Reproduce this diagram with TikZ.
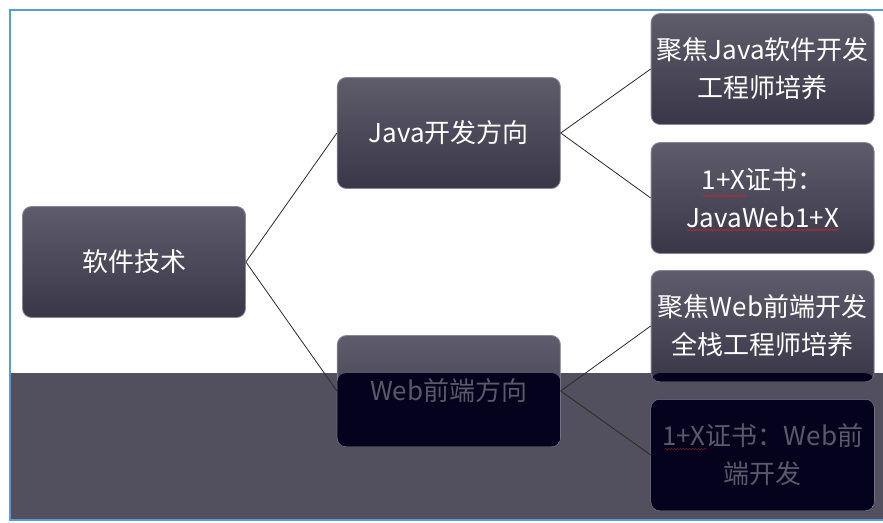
\documentclass[tikz,border=0pt]{standalone}
\usepackage{fontspec}
\setmainfont{Noto Sans CJK SC}
\usetikzlibrary{positioning,calc,decorations.pathmorphing}
\definecolor{boxtop}{HTML}{5F5D6C}
\definecolor{boxbot}{HTML}{393747}
\definecolor{boxedge}{HTML}{8A8898}
\definecolor{ovfill}{HTML}{52505F}
\definecolor{dimfill}{HTML}{04021C}
\definecolor{dimtext}{HTML}{5A5869}
\definecolor{frameblue}{HTML}{5B9BD5}
\definecolor{linkgray}{HTML}{2A2A2A}
\definecolor{squig}{HTML}{C0282D}
\tikzset{box/.style={draw=boxedge, line width=0.8pt, rounded corners=9pt, top color=boxtop, bottom color=boxbot, text=white, minimum width=223pt, minimum height=111pt, inner sep=2pt, align=center, font=\fontsize{26}{38}\selectfont}}
\tikzstyle{dim}=[text=dimtext, postaction={path picture={\fill[dimfill] (path picture bounding box.south west) rectangle (path picture bounding box.east |- ovtop);}}]
\tikzstyle{link}=[draw=linkgray, line width=0.8pt]
\tikzstyle{wavy}=[draw=squig, line width=0.6pt, decorate, decoration={snake, amplitude=0.8pt, segment length=3pt}]

\begin{document}
\begin{tikzpicture}[x=1pt, y=-1pt, node distance=90pt]
\useasboundingbox (0,0) rectangle (883,522);
\draw[frameblue, line width=1.5pt] (883,10) -- (10,10) -- (10,520) -- (883,520);
\coordinate (ovtop) at (11,373);
\fill[ovfill] (ovtop) rectangle (883,519);

\node[box] (root) at (134,262) {软件技术};
\node[box, right=91pt of root, yshift=129pt] (java) {Java开发方向};
\node[box, dim, right=91pt of root, yshift=-129pt] (web) {Web前端方向};
\node[box, right=of java, yshift=64pt] (j1) {聚焦Java软件开发\\工程师培养};
\node[box, right=of java, yshift=-65pt] (j2) {1+X证书：\\JavaWeb1+X};
\node[box, dim, text=white, right=of web, yshift=65pt] (w1) {聚焦Web前端开发\\全栈工程师培养};
\node[box, dim, right=of web, yshift=-64pt] (w2) {1+X证书：Web前\\端开发};

\path[link] (root.east) edge (java.west)
	(root.east) edge (web.west)
	(java.east) edge (j1.west)
	(java.east) edge (j2.west)
	(web.east) edge (w1.west)
	(web.east) edge (w2.west)
;
% spell-check marks
\draw[wavy] ($(j2.center)+(-60,-2)$) -- ($(j2.center)+(-16,-2)$);
\draw[wavy] ($(j2.center)+(-76,32)$) -- ($(j2.center)+(76,32)$);
\draw[wavy, draw=squig!55!black] ($(w2.center)+(-98,-6)$) -- ($(w2.center)+(-56,-6)$);
\end{tikzpicture}
\end{document}
